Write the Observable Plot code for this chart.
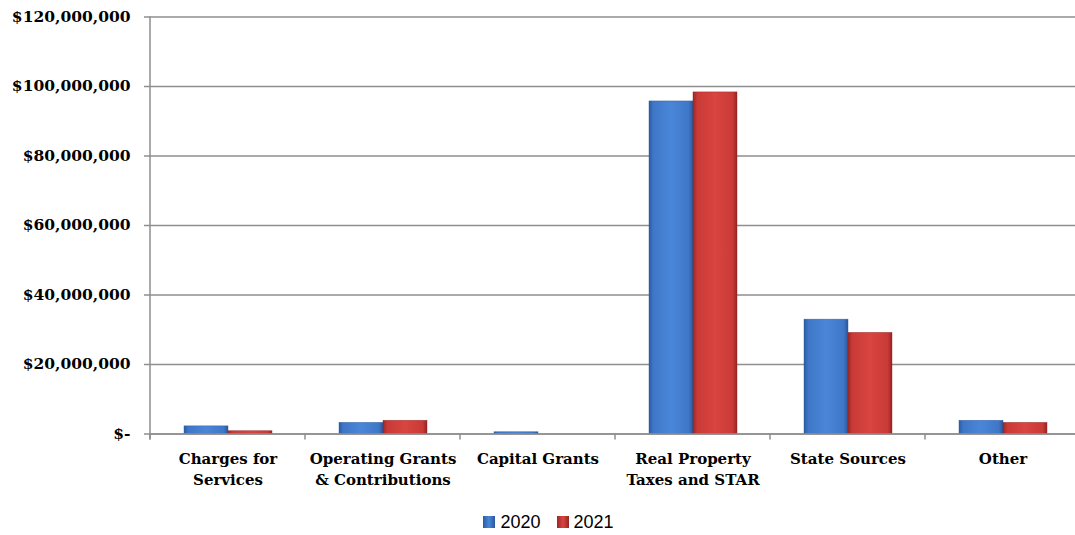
<!DOCTYPE html>
<html>
<head>
<meta charset="utf-8">
<script src="https://cdn.jsdelivr.net/npm/d3@7"></script>
<script src="https://cdn.jsdelivr.net/npm/@observablehq/plot@0.6"></script>
<style>
  html, body { margin: 0; padding: 0; background: #fff; overflow: hidden; }
  #chart svg { display: block; }
  .legend { display: flex; justify-content: center; align-items: center; height: 40px; padding-top: 2px; font-family: "Liberation Sans", Arial, sans-serif; font-size: 18px; color: #000; padding-left: 22px; }
  .legend .item { display: flex; align-items: center; margin: 0 8px; }
  .legend .sw { width: 12px; height: 12px; margin-right: 5px; box-sizing: border-box; }
</style>
</head>
<body>
<div id="chart"></div>
<script>
// ---- data ----
const categories = ["Charges for Services", "Operating Grants & Contributions", "Capital Grants", "Real Property Taxes and STAR", "State Sources", "Other"];
const categoryLabels = ["Charges for\nServices", "Operating Grants\n& Contributions", "Capital Grants", "Real Property\nTaxes and STAR", "State Sources", "Other"];
const years = ["2020", "2021"];
const values2020 = [2.2e6, 3.2e6, 0.5e6, 95.7e6, 32.9e6, 3.8e6];
const values2021 = [0.8e6, 3.8e6, 0, 98.3e6, 29.1e6, 3.2e6];
const yTicks = [0, 20e6, 40e6, 60e6, 80e6, 100e6, 120e6];

const rows = [];
categories.forEach((c, i) => {
  rows.push({category: c, year: years[0], value: values2020[i]});
  rows.push({category: c, year: years[1], value: values2021[i]});
});
const labelOf = new Map(categories.map((c, i) => [c, categoryLabels[i]]));
const fmt = d3.format(",");

const plot = Plot.plot({
  width: 1075,
  height: 500,
  marginLeft: 148,
  marginRight: -7,
  marginTop: 16.5,
  marginBottom: 66.5,
  style: {fontFamily: "'DejaVu Serif', serif", fontWeight: "bold", fontSize: "15px", color: "#000", background: "#fff"},
  fx: {domain: categories, padding: 0, label: null},
  x: {domain: years, paddingInner: 0, paddingOuter: 0.73, axis: null},
  y: {domain: [0, 120e6], label: null},
  marks: [
    Plot.gridY(yTicks, {stroke: "#8e8e8e", strokeOpacity: 1, strokeWidth: 1.5}),
    Plot.barY(rows.filter(d => d.year === years[0]), {fx: "category", x: "year", y: "value", fill: "url(#g2020)", stroke: "#2a5597", strokeWidth: 0.6, strokeOpacity: 0.7}),
    Plot.barY(rows.filter(d => d.year === years[1]), {fx: "category", x: "year", y: "value", fill: "url(#g2021)", stroke: "#8e2422", strokeWidth: 0.6, strokeOpacity: 0.7}),
    Plot.axisY({ticks: yTicks, tickSize: 6, tickPadding: 14, fontSize: 15.5, stroke: "#8e8e8e", strokeWidth: 1.5,
      tickFormat: d => d === 0 ? "$-" : "$" + fmt(d), label: null}),
    Plot.axisFx({anchor: "bottom", tickSize: 0, tickPadding: 15, fontSize: 15, lineHeight: 1.4,
      tickFormat: c => labelOf.get(c), label: null}),
    Plot.ruleY([0], {stroke: "#8e8e8e", strokeWidth: 1.5})
  ]
});

// gradient definitions for bevelled bars
const svg = d3.select(plot);
const defs = svg.insert("defs", ":first-child");
function grad(id, stops) {
  const g = defs.append("linearGradient").attr("id", id).attr("x1", "0").attr("x2", "1").attr("y1", "0").attr("y2", "0");
  stops.forEach(([o, c]) => g.append("stop").attr("offset", o).attr("stop-color", c));
}
grad("g2020", [["0%", "#2b5ca5"], ["10%", "#3f77c8"], ["50%", "#4a86d8"], ["90%", "#3f77c8"], ["100%", "#2a579c"]]);
grad("g2021", [["0%", "#9b2826"], ["10%", "#c93a36"], ["50%", "#d94541"], ["90%", "#c93a36"], ["100%", "#962523"]]);

// y axis line and category boundary ticks, positioned through Plot's scales
const fx = plot.scale("fx");
const y = plot.scale("y");
const y0 = y.apply(0);
const yTop = y.apply(120e6);
const xLeft = fx.apply(categories[0]);
svg.append("line").attr("x1", xLeft).attr("x2", xLeft).attr("y1", yTop).attr("y2", y0 + 6)
  .attr("stroke", "#8e8e8e").attr("stroke-width", 1.5);
const bounds = categories.map(c => fx.apply(c)).concat([fx.apply(categories[categories.length - 1]) + fx.bandwidth]);
bounds.forEach(b => svg.append("line").attr("x1", b).attr("x2", b).attr("y1", y0).attr("y2", y0 + 6)
  .attr("stroke", "#8e8e8e").attr("stroke-width", 1.5));

document.getElementById("chart").append(plot);

// legend
const legend = document.createElement("div");
legend.className = "legend";
[["2020", "linear-gradient(to right,#2b5ca5,#4a86d8,#2a579c)"], ["2021", "linear-gradient(to right,#9b2826,#d94541,#962523)"]].forEach(([t, bg]) => {
  const item = document.createElement("span");
  item.className = "item";
  const sw = document.createElement("span");
  sw.className = "sw";
  sw.style.background = bg;
  item.append(sw, document.createTextNode(t));
  legend.append(item);
});
document.getElementById("chart").append(legend);
</script>
</body>
</html>
